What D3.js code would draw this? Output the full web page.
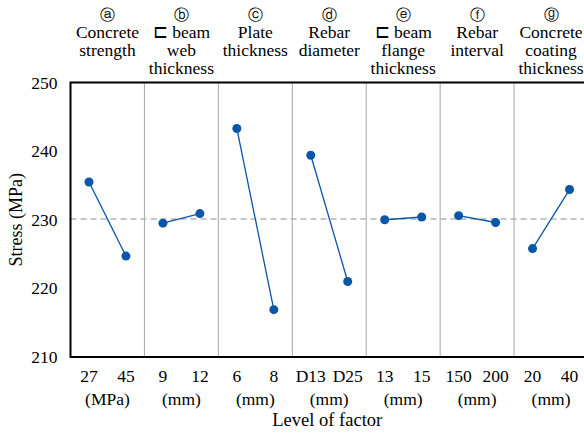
<!DOCTYPE html>
<html><head><meta charset="utf-8">
<script src="https://cdn.jsdelivr.net/npm/d3@7"></script>
<style>
html,body{margin:0;padding:0;background:#fff;overflow:hidden;}
</style></head>
<body>
<svg id="c" width="584" height="433"></svg>
<script>
const factorMarks = ["ⓐ","ⓑ","ⓒ","ⓓ","ⓔ","ⓕ","ⓖ"];
const factorNames = [
  ["Concrete","strength"],
  ["⊏ beam","web","thickness"],
  ["Plate","thickness"],
  ["Rebar","diameter"],
  ["⊏ beam","flange","thickness"],
  ["Rebar","interval"],
  ["Concrete","coating","thickness"]
];
const levelLabels = [["27","45"],["9","12"],["6","8"],["D13","D25"],["13","15"],["150","200"],["20","40"]];
const units = ["(MPa)","(mm)","(mm)","(mm)","(mm)","(mm)","(mm)"];
const stressValues = [[235.5,224.7],[229.5,230.9],[243.3,216.9],[239.4,221.0],[230.0,230.4],[230.6,229.6],[225.8,234.4]];
const meanStress = 230.1;
const yTicks = [210,220,230,240,250];

const FONT = '"Liberation Serif"';
const svg = d3.select("#c");
const L = 70.5, R = 588, T = 82.5, B = 357;

const xF = d3.scaleBand().domain(d3.range(factorNames.length)).range([L, R]).padding(0);
const xL = d3.scaleBand().domain([0,1]).range([0, xF.bandwidth()]).padding(0);
const y = d3.scaleLinear().domain([210,250]).range([B, T]);

function txt(sel){ return sel.append("text").style("font-family", FONT).attr("fill","#000"); }

// dividers
svg.append("g").selectAll("line").data(d3.range(1, factorNames.length)).join("line")
  .attr("x1", i => xF(i)).attr("x2", i => xF(i)).attr("y1", T).attr("y2", B)
  .attr("stroke", "#a6a6a6").attr("stroke-width", 1);

// mean dashed line
svg.append("line").attr("x1", L).attr("x2", R).attr("y1", y(meanStress)).attr("y2", y(meanStress))
  .attr("stroke", "#b4b4b4").attr("stroke-width", 1.6).attr("stroke-dasharray", "6,4");

// frame
svg.append("path").attr("d", `M${R},${T}H${L}V${B}H${R}`).attr("fill","none")
  .attr("stroke","#000").attr("stroke-width",2);

// y axis labels
const yAxis = d3.axisLeft(y).tickValues(yTicks).tickSize(0).tickPadding(13);
const ga = svg.append("g").attr("transform", `translate(${L},0)`).call(yAxis);
ga.select(".domain").remove();
ga.selectAll("text").style("font-family", FONT).style("font-size", "17.5px").attr("fill","#000");

txt(svg).attr("transform", `translate(22,${(T+B)/2}) rotate(-90)`)
  .attr("text-anchor","middle").style("font-size","18px").text("Stress (MPa)");

// series
const line = d3.line().x(d => d[0]).y(d => d[1]);
stressValues.forEach((vals, i) => {
  const pts = vals.map((v, j) => [xF(i) + xL(j) + xL.bandwidth()/2, y(v)]);
  svg.append("path").attr("d", line(pts)).attr("fill","none").attr("stroke","#0a56a8").attr("stroke-width",1.3);
  svg.append("g").selectAll("circle").data(pts).join("circle")
    .attr("cx", d => d[0]).attr("cy", d => d[1]).attr("r", 4.5).attr("fill","#0a56a8");
  levelLabels[i].forEach((lab, j) => {
    txt(svg).attr("x", xF(i) + xL(j) + xL.bandwidth()/2).attr("y", 382)
      .attr("text-anchor","middle").style("font-size","17.5px").text(lab);
  });
  txt(svg).attr("x", xF(i) + xF.bandwidth()/2).attr("y", 405)
    .attr("text-anchor","middle").style("font-size","17.5px").text(units[i]);
  const cx = xF(i) + xF.bandwidth()/2;
  txt(svg).attr("x", cx).attr("y", 20).attr("text-anchor","middle")
    .style("font-size","15px").text(factorMarks[i]);
  factorNames[i].forEach((t, k) => {
    txt(svg).attr("x", cx).attr("y", 38 + k*18).attr("text-anchor","middle")
      .style("font-size","17.5px").text(t);
  });
});

txt(svg).attr("x", (L+R)/2 - 2).attr("y", 426).attr("text-anchor","middle")
  .style("font-size","18.5px").text("Level of factor");
</script>
</body></html>
